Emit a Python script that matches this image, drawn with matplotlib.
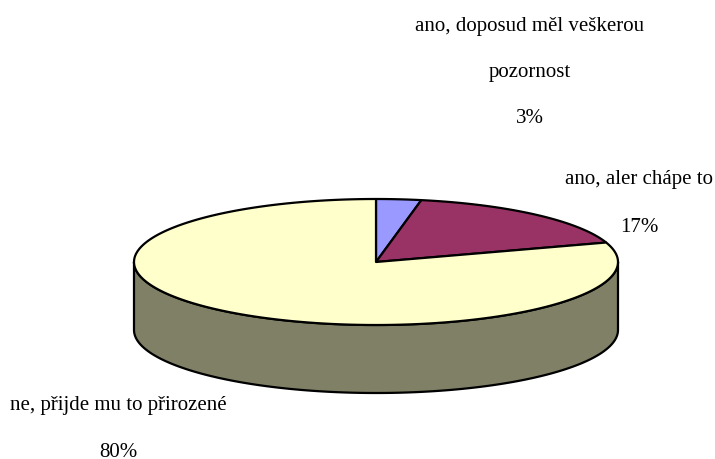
import numpy as np
import matplotlib
matplotlib.use('Agg')
import matplotlib.pyplot as plt

## DATA
labels = ['ano, doposud měl veškerou\n\npozornost\n\n3%', 'ano, aler chápe to\n\n17%', 'ne, přijde mu to přirozené\n\n80%']
values = [3, 17, 80]
colors = ['#9999ff', '#993366', '#ffffcc']
side_colors = ['#4d4d80', '#4d1a33', '#808066']

## PIE GEOMETRY (pixels of the reference)
W, H = 715, 459
CX, CY = 376, 262
RX, RY = 242, 63
DEPTH = 68

def ell(a):
	"""point on the top ellipse, a in radians clockwise from 12 o'clock"""
	return CX + RX*np.sin(a), CY - RY*np.cos(a)

fig = plt.figure(figsize=(W/100, H/100), dpi=100)
ax = fig.add_axes([0, 0, 1, 1])
ax.set_xlim(0, W)
ax.set_ylim(H, 0)
ax.set_axis_off()

edges = 2*np.pi*np.cumsum([0] + values)/sum(values)

# side wall, only the front half of the rim shows
for i in range(len(values)):
	lo = max(edges[i], np.pi/2)
	hi = min(edges[i+1], 3*np.pi/2)
	if hi <= lo:
		continue
	t = np.linspace(lo, hi, 200)
	x, y = ell(t)
	ax.fill(np.r_[x, x[::-1]], np.r_[y, y[::-1] + DEPTH], fc=side_colors[i], ec='black', lw=1.6, joinstyle='round')

# top face
for i in range(len(values)):
	t = np.linspace(edges[i], edges[i+1], 300)
	x, y = ell(t)
	ax.fill(np.r_[CX, x], np.r_[CY, y], fc=colors[i], ec='black', lw=1.6, joinstyle='round')

font = dict(family='Liberation Serif', fontsize=15, color='black', ha='center', va='top')
ax.text(530, 17, labels[0], linespacing=1.29, **font)
ax.text(639, 170, labels[1], linespacing=1.35, **font)
ax.text(118.5, 396, labels[2], linespacing=1.33, **font)

fig.savefig('out.png', dpi=100, facecolor='white')
